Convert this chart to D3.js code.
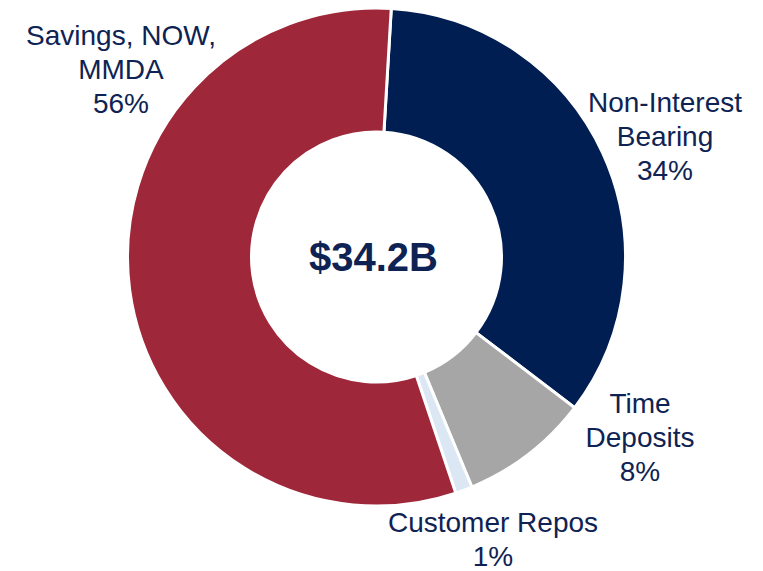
<!DOCTYPE html>
<html>
<head>
<meta charset="utf-8">
<script src="https://cdn.jsdelivr.net/npm/d3@7"></script>
<style>
  body { margin: 0; background: #fff; }
  text { font-family: "Liberation Sans", Arial, sans-serif; }
</style>
</head>
<body>
<div class="svg-container"></div>
<script>
// Data
const categories = ['Non-Interest Bearing', 'Time Deposits', 'Customer Repos', 'Savings, NOW, MMDA'];
const shares = [34.4, 8.4, 1.1, 56.1];
const pctLabels = ['34%', '8%', '1%', '56%'];
const labelLines = [['Non-Interest', 'Bearing'], ['Time', 'Deposits'], ['Customer Repos'], ['Savings, NOW,', 'MMDA']];
const colors = ['#011E52', '#A6A6A6', '#DCE7F4', '#9E283A'];
const totalLabel = '$34.2B';

// layout
const width = 763, height = 571;
const cx = 376.5, cy = 257;
const outerR = 249, innerR = 125;
const textColor = '#0E2353';
// label anchor (center x, first baseline) for each slice
const labelAnchors = [[665, 112], [640, 413], [493, 532], [121, 45]];
const lineH = 34;

const svg = d3.select('.svg-container')
  .append('svg')
  .attr('width', width)
  .attr('height', height);

const g = svg.append('g')
  .attr('transform', `translate(${cx}, ${cy})`);

const data = categories.map((c, i) => ({ name: c, value: shares[i], pct: pctLabels[i], lines: labelLines[i] }));

const pie = d3.pie()
  .sort(null)
  .value(d => d.value)
  .startAngle(3.4 * Math.PI / 180)
  .endAngle(3.4 * Math.PI / 180 + 2 * Math.PI);

const arc = d3.arc()
  .innerRadius(innerR)
  .outerRadius(outerR);

const color = d3.scaleOrdinal()
  .domain(categories)
  .range(colors);

g.selectAll('path.slice')
  .data(pie(data))
  .enter().append('path')
    .attr('class', 'slice')
    .attr('d', arc)
    .attr('fill', d => color(d.data.name))
    .attr('stroke', '#fff')
    .attr('stroke-width', 3)
    .attr('stroke-linejoin', 'miter');

g.append('text')
  .attr('x', -3)
  .attr('y', 14)
  .attr('text-anchor', 'middle')
  .attr('fill', textColor)
  .style('font-size', '40px')
  .style('font-weight', 'bold')
  .text(totalLabel);

// labels
const labels = svg.selectAll('.label')
  .data(data)
  .enter().append('text')
    .attr('class', 'label')
    .attr('text-anchor', 'middle')
    .attr('fill', textColor)
    .style('font-size', '28px');

labels.each(function(d, i) {
  const t = d3.select(this);
  const [lx, ly] = labelAnchors[i];
  d.lines.concat([d.pct]).forEach((line, j) => {
    t.append('tspan')
      .attr('x', lx)
      .attr('y', ly + j * lineH)
      .text(line);
  });
});
</script>
</body>
</html>
